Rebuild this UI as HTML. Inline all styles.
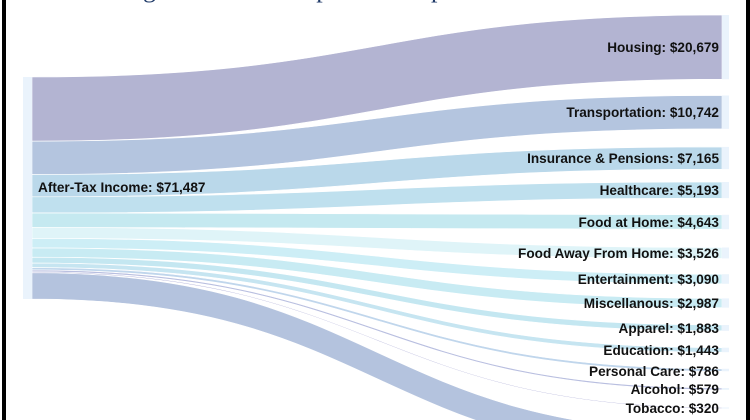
<!DOCTYPE html>
<html><head><meta charset="utf-8"><style>
html,body{margin:0;background:#fff;overflow:hidden;width:750px;height:420px;}
#w{position:relative;width:750px;height:420px;overflow:hidden;background:#fff;}
#w:before{content:"";position:absolute;left:2px;top:0;width:740px;height:420px;border-left:4px solid #000;border-right:4px solid #000;}
svg{position:absolute;left:0;top:0;}
text{font-family:"Liberation Sans",sans-serif;font-weight:bold;font-size:13.6px;fill:#111;}
</style></head><body><div id="w">
<svg width="750" height="420" id="s">
<text x="375" y="-3" text-anchor="middle" style="font-family:'Liberation Serif',serif;font-weight:normal;font-size:26px;fill:#1f3a68">Average Consumer Expenditures per Household in 2019</text>
<g id="links"></g>
<rect x="23" y="77" width="9" height="222" fill="#eaf3fc"/>
<g id="nodes"></g>
<text x="38" y="192">After-Tax Income: $71,487</text>
<g text-anchor="end" id="labels">
<text x="719" y="52">Housing: $20,679</text>
<text x="719" y="117">Transportation: $10,742</text>
<text x="719" y="163">Insurance &amp; Pensions: $7,165</text>
<text x="719" y="195">Healthcare: $5,193</text>
<text x="719" y="227">Food at Home: $4,643</text>
<text x="719" y="258">Food Away From Home: $3,526</text>
<text x="719" y="284">Entertainment: $3,090</text>
<text x="719" y="308">Miscellanous: $2,987</text>
<text x="719" y="333">Apparel: $1,883</text>
<text x="719" y="355">Education: $1,443</text>
<text x="719" y="376">Personal Care: $786</text>
<text x="719" y="394">Alcohol: $579</text>
<text x="719" y="413">Tobacco: $320</text>
</g>
</svg>
<script>
var v=[20679,10742,7165,5193,4643,3526,3090,2987,1883,1443,786,579,320,8451];
var rt=[15,95.5,146.9,182,214.8,247.5,274.2,298.4,325,347.7,368.8,388,407.5,432];
var c=["#b3b4d2","#b4c5df","#bad8ea","#bfe0ee","#c5e9f0","#dff4f8","#cdeef6","#c8ebf3","#c4e7f1","#c6e5f1","#c0d6ec","#b9bfe0","#b9b9dc","#b4c3de"];
var k=222/71487,y=77,L=32,R=722,m=(L+R)/2,h="",n="";
for(var i=0;i<v.length;i++){var t=v[i]*k,a=y,b=rt[i];
h+='<path d="M'+L+','+a+' C'+m+','+a+' '+m+','+b+' '+R+','+b+' L'+R+','+(b+t)+' C'+m+','+(b+t)+' '+m+','+(a+t)+' '+L+','+(a+t)+'Z" fill="'+c[i]+'" stroke="#fff" stroke-width="0.6"/>';
if(b<420)n+='<rect x="722" y="'+b+'" width="7" height="'+Math.min(Math.max(t,1),420-b)+'" fill="#eaf3fc"/>';
y+=t;}
document.getElementById("links").innerHTML=h;document.getElementById("nodes").innerHTML=n;
</script>
</div></body></html>
